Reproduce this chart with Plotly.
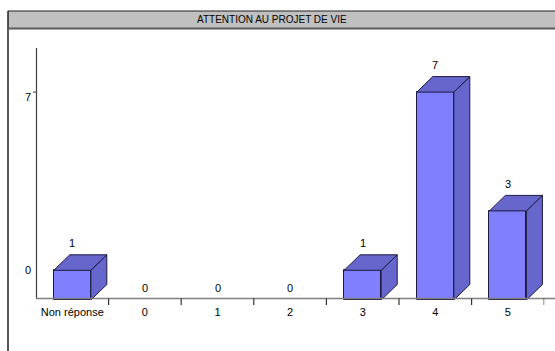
import plotly.graph_objects as go

# Chart data
categories = ["Non réponse", "0", "1", "2", "3", "4", "5"]
counts = [1, 0, 0, 0, 1, 7, 3]
y_tick_vals = [1, 6.83]
y_tick_text = ["0", "7"]
title_text = "ATTENTION AU PROJET DE VIE"

W, H = 555, 351
FONT = "Arial, Liberation Sans, sans-serif"

# Plot-area geometry (pixels)
X_LEFT, X_RIGHT = 36, 544.2
Y_BASE, Y_TOP = 300, 48
UNIT_PX = 29.7           # pixels per count
BAR_W = 0.51             # bar width in category units
DEPTH_X_PX, DEPTH_Y_PX = 16, 15.5

cat_px = (X_RIGHT - X_LEFT) / len(categories)
dx = DEPTH_X_PX / cat_px
dy = DEPTH_Y_PX / UNIT_PX
y_max = (Y_BASE - Y_TOP) / UNIT_PX


def px(x):
    return x / W


def py(y):
    return 1 - y / H


front = "#8080ff"
shade = "#6666cc"
edge = "#1a1a40"

fig = go.Figure()

xs = list(range(len(categories)))

# Front faces of the bars (empty categories get no outline)
fig.add_trace(go.Bar(
    x=xs, y=counts, width=BAR_W,
    marker=dict(color=front,
                line=dict(color=edge, width=[1 if v > 0 else 0 for v in counts])),
    hoverinfo="skip", showlegend=False,
))

# Top and side faces for the 3D look
for i, v in zip(xs, counts):
    if v <= 0:
        continue
    l, r = i - BAR_W / 2, i + BAR_W / 2
    side_x = [r, r + dx, r + dx, r, r]
    side_y = [0, dy, v + dy, v, 0]
    top_x = [l, l + dx, r + dx, r, l]
    top_y = [v, v + dy, v + dy, v, v]
    for sx, sy in ((side_x, side_y), (top_x, top_y)):
        fig.add_trace(go.Scatter(
            x=sx, y=sy, mode="lines", fill="toself",
            fillcolor=shade, line=dict(color=edge, width=1),
            hoverinfo="skip", showlegend=False,
        ))

# Value labels above each bar
for i, v in zip(xs, counts):
    fig.add_annotation(
        x=i, y=v, text=str(v), showarrow=False,
        yshift=27 if v > 0 else 12.5,
        font=dict(family=FONT, size=11, color="#000000"),
        xanchor="center", yanchor="middle",
    )

shapes = []
# Outer frame: left edge
shapes.append(dict(type="line", xref="paper", yref="paper",
                   x0=px(8), x1=px(8), y0=py(11), y1=py(H + 2),
                   line=dict(color="#202020", width=1.5)))
# Title band
shapes.append(dict(type="rect", xref="paper", yref="paper",
                   x0=px(8), x1=px(W + 5), y0=py(28.5), y1=py(11),
                   fillcolor="#c0c0c0", line=dict(width=0), layer="below"))
shapes.append(dict(type="line", xref="paper", yref="paper",
                   x0=px(8), x1=px(W + 5), y0=py(11), y1=py(11),
                   line=dict(color="#202020", width=1.2)))
shapes.append(dict(type="line", xref="paper", yref="paper",
                   x0=px(8), x1=px(W + 5), y0=py(28.5), y1=py(28.5),
                   line=dict(color="#5a5a5a", width=1.8)))
# Y axis line
shapes.append(dict(type="line", xref="paper", yref="paper",
                   x0=px(36.5), x1=px(36.5), y0=py(48), y1=py(298.5),
                   line=dict(color="#404040", width=1.2)))
# Tick mark at the top label
shapes.append(dict(type="line", xref="paper", yref="y",
                   x0=px(33), x1=px(36.5), y0=7, y1=7,
                   line=dict(color="#404040", width=1)))
# X axis line
shapes.append(dict(type="line", xref="paper", yref="paper",
                   x0=px(36), x1=px(W + 5), y0=py(298.5), y1=py(298.5),
                   line=dict(color="#808080", width=1.5)))
# Category separators below the axis
for k in range(1, len(categories) + 1):
    xb = k - 0.5
    shapes.append(dict(type="line", xref="x", yref="paper",
                       x0=xb, x1=xb, y0=py(298.5), y1=py(305),
                       line=dict(color="#303030", width=1.2)))

fig.add_annotation(
    x=px(271.5), y=py(20), xref="paper", yref="paper",
    text=title_text, showarrow=False, xanchor="center", yanchor="middle",
    font=dict(family=FONT, size=10, color="#000000"),
)

fig.update_layout(
    width=W, height=H,
    margin=dict(l=0, r=0, t=0, b=0),
    paper_bgcolor="white", plot_bgcolor="rgba(0,0,0,0)",
    shapes=shapes,
    bargap=0,
    xaxis=dict(
        domain=[px(X_LEFT), px(X_RIGHT)],
        range=[-0.5, len(categories) - 0.5],
        tickmode="array", tickvals=xs, ticktext=categories,
        showgrid=False, zeroline=False, showline=False, ticks="",
        ticklabelstandoff=4,
        tickfont=dict(family=FONT, size=11, color="#000000"),
        fixedrange=True,
    ),
    yaxis=dict(
        domain=[py(Y_BASE), py(Y_TOP)],
        range=[0, y_max],
        tickmode="array", tickvals=y_tick_vals, ticktext=y_tick_text,
        showgrid=False, zeroline=False, showline=False, ticks="",
        ticklabelstandoff=4,
        tickfont=dict(family=FONT, size=11, color="#000000"),
        fixedrange=True,
    ),
)

fig.write_html("out.html")
